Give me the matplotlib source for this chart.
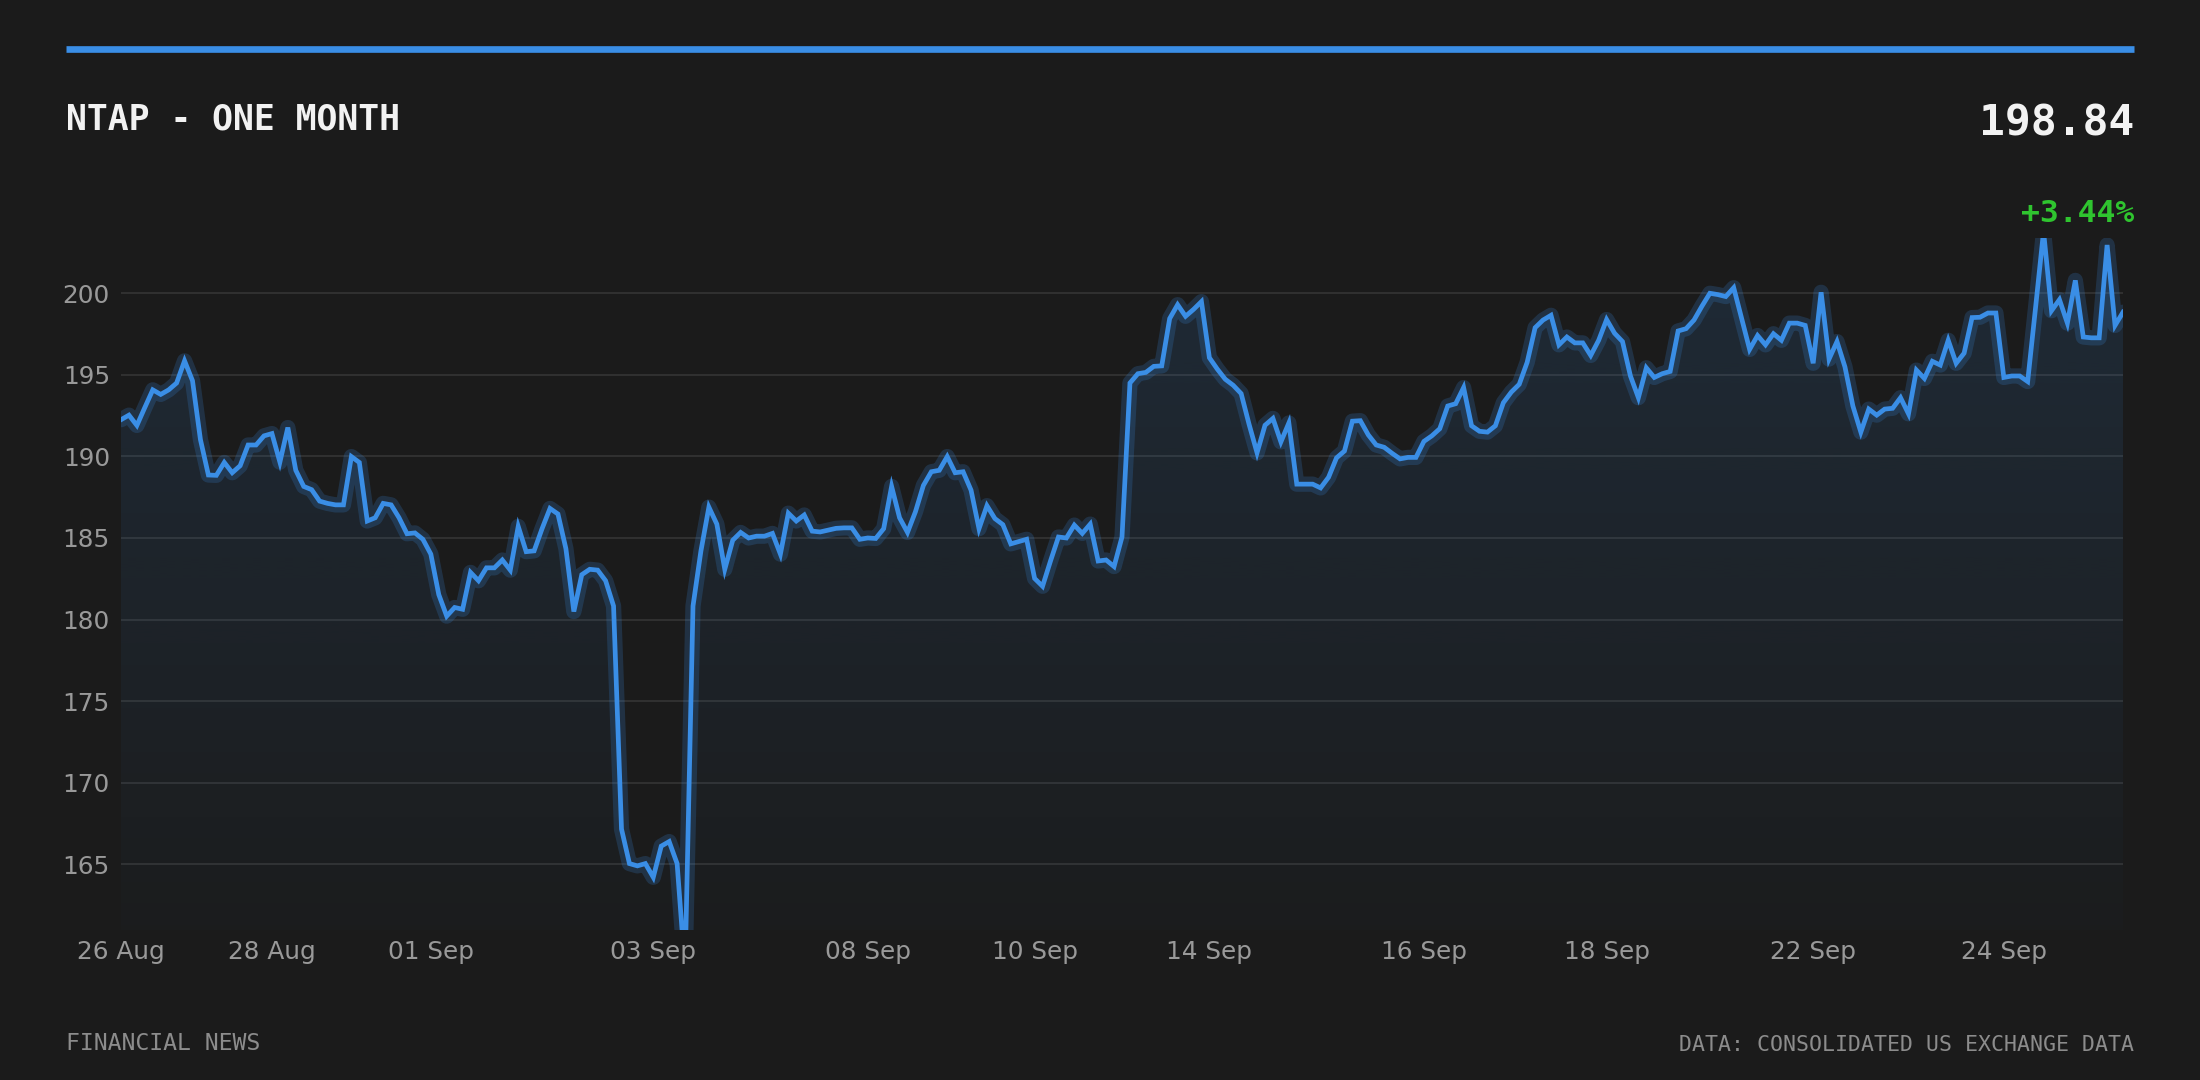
import numpy as np
import matplotlib.pyplot as plt
from matplotlib.patches import Polygon
from matplotlib.lines import Line2D

# cotações (um ponto por intervalo)
prices = [
    192.25, 192.53, 191.90, 193.00, 194.08, 193.80, 194.08, 194.50, 195.86, 194.64,
    191.03, 188.86, 188.84, 189.63, 189.00, 189.43, 190.70, 190.70, 191.26, 191.40,
    189.65, 191.77, 189.15, 188.16, 187.96, 187.26, 187.12, 187.03, 187.03, 189.99,
    189.63, 186.04, 186.24, 187.12, 187.03, 186.24, 185.26, 185.31, 184.92, 184.01,
    181.53, 180.21, 180.74, 180.63, 182.89, 182.38, 183.17, 183.17, 183.65, 183.03,
    185.71, 184.16, 184.21, 185.57, 186.81, 186.47, 184.35, 180.49, 182.75, 183.08,
    183.03, 182.38, 180.83, 167.16, 165.04, 164.90, 165.04, 164.20, 166.11, 166.39,
    165.04, 158.50, 180.83, 184.21, 186.89, 185.85, 183.08, 184.86, 185.34, 185.00,
    185.11, 185.11, 185.28, 184.01, 186.52, 186.04, 186.41, 185.42, 185.37, 185.48,
    185.59, 185.62, 185.62, 184.92, 185.00, 184.97, 185.57, 188.16, 186.24, 185.34,
    186.61, 188.22, 189.06, 189.15, 189.99, 189.00, 189.06, 187.93, 185.57, 186.98,
    186.19, 185.82, 184.64, 184.78, 184.92, 182.52, 182.04, 183.59, 185.06, 185.00,
    185.79, 185.28, 185.85, 183.59, 183.65, 183.25, 185.06, 194.50, 195.07, 195.15,
    195.52, 195.55, 198.45, 199.30, 198.59, 199.01, 199.49, 196.05, 195.35, 194.73,
    194.36, 193.85, 191.96, 190.22, 191.91, 192.33, 190.89, 192.05, 188.30, 188.30,
    188.30, 188.07, 188.72, 189.91, 190.33, 192.16, 192.19, 191.32, 190.70, 190.56,
    190.19, 189.85, 189.94, 189.94, 190.92, 191.26, 191.70, 193.09, 193.23, 194.22,
    191.88, 191.54, 191.49, 191.88, 193.29, 193.94, 194.42, 195.77, 197.89, 198.36,
    198.65, 196.84, 197.32, 196.96, 196.96, 196.19, 197.12, 198.39, 197.55, 197.04,
    194.93, 193.60, 195.43, 194.84, 195.07, 195.21, 197.69, 197.83, 198.36, 199.21,
    200.00, 199.92, 199.80, 200.34, 198.45, 196.56, 197.41, 196.84, 197.52, 197.12,
    198.17, 198.17, 198.03, 195.71, 200.06, 195.97, 197.04, 195.49, 193.09, 191.49,
    192.90, 192.53, 192.90, 192.95, 193.60, 192.61, 195.29, 194.78, 195.83, 195.60,
    197.12, 195.71, 196.33, 198.51, 198.53, 198.79, 198.79, 194.84, 194.93, 194.93,
    194.59, 199.15, 203.80, 198.93, 199.61, 198.17, 200.79, 197.32, 197.27, 197.27,
    202.96, 198.03, 198.84,
]

tick_idx = [0, 19, 39, 67, 94, 115, 137, 164, 187, 213, 237]
tick_lbl = ["26 Aug", "28 Aug", "01 Sep", "03 Sep", "08 Sep", "10 Sep",
            "14 Sep", "16 Sep", "18 Sep", "22 Sep", "24 Sep"]
y_ticks = [165, 170, 175, 180, 185, 190, 195, 200]

ticker = "NTAP - ONE MONTH"
last_price = "198.84"
change_txt = "+3.44%"

BG = "#1b1b1b"
BLUE = "#3a8ee6"
MONO = "DejaVu Sans Mono"

fig = plt.figure(figsize=(22, 10.8), dpi=100, facecolor=BG)
ax = fig.add_axes([121 / 2200, 0.1386, 2002 / 2200, 0.7795 - 0.1386])
ax.set_facecolor(BG)

x = np.arange(len(prices))
y0, y1 = 160.95, 203.38
ax.set_xlim(0, len(prices) - 1)
ax.set_ylim(y0, y1)

# preenchimento em degradê abaixo da linha
grad = np.zeros((256, 1, 4))
grad[..., :3] = plt.matplotlib.colors.to_rgb(BLUE)
grad[..., 3] = np.linspace(0.015, 0.14, 256)[:, None]
img = ax.imshow(grad, extent=[0, len(prices) - 1, y0, y1], aspect="auto",
                origin="lower", zorder=1, interpolation="bilinear")
verts = [(0, 150)] + list(zip(x, prices)) + [(len(prices) - 1, 150)]
poly = Polygon(verts, closed=True, facecolor="none", edgecolor="none")
ax.add_patch(poly)
img.set_clip_path(poly)

# brilho + linha principal
ax.plot(x, prices, color=BLUE, lw=11, alpha=0.2, zorder=2,
        solid_joinstyle="round", solid_capstyle="round")
ax.plot(x, prices, color=BLUE, lw=3.4, zorder=3, solid_joinstyle="miter")

ax.set_yticks(y_ticks)
ax.set_xticks(tick_idx)
ax.set_xticklabels(tick_lbl)
ax.grid(axis="y", color="#333333", lw=1.3)
ax.set_axisbelow(True)
for s in ax.spines.values():
    s.set_visible(False)
ax.tick_params(axis="both", length=0, labelsize=17.8, labelcolor="#999999")
ax.tick_params(axis="y", pad=8)
ax.tick_params(axis="x", pad=7)

# barra azul no topo
fig.add_artist(Line2D([66 / 2200, 2134 / 2200], [1 - 49 / 1080] * 2,
                      transform=fig.transFigure, color=BLUE, lw=4.8,
                      solid_capstyle="butt"))

fig.text(66 / 2200, 1 - 119 / 1080, ticker, family=MONO, weight="bold",
         fontsize=25, color="#f2f2f2", ha="left", va="center")
fig.text(2134 / 2200, 1 - 124 / 1080, last_price, family=MONO, weight="bold",
         fontsize=31, color="#f2f2f2", ha="right", va="center")
fig.text(2134 / 2200, 1 - 214 / 1080, change_txt, family=MONO, weight="bold",
         fontsize=22.6, color="#2fc42f", ha="right", va="center")

fig.text(66 / 2200, 1 - 1044 / 1080, "FINANCIAL NEWS", family=MONO,
         fontsize=16.7, color="#8c8c8c", ha="left", va="center")
fig.text(2134 / 2200, 1 - 1045 / 1080, "DATA: CONSOLIDATED US EXCHANGE DATA",
         family=MONO, fontsize=15.5, color="#8c8c8c", ha="right", va="center")

fig.savefig("out.png", dpi=100, facecolor=BG)
